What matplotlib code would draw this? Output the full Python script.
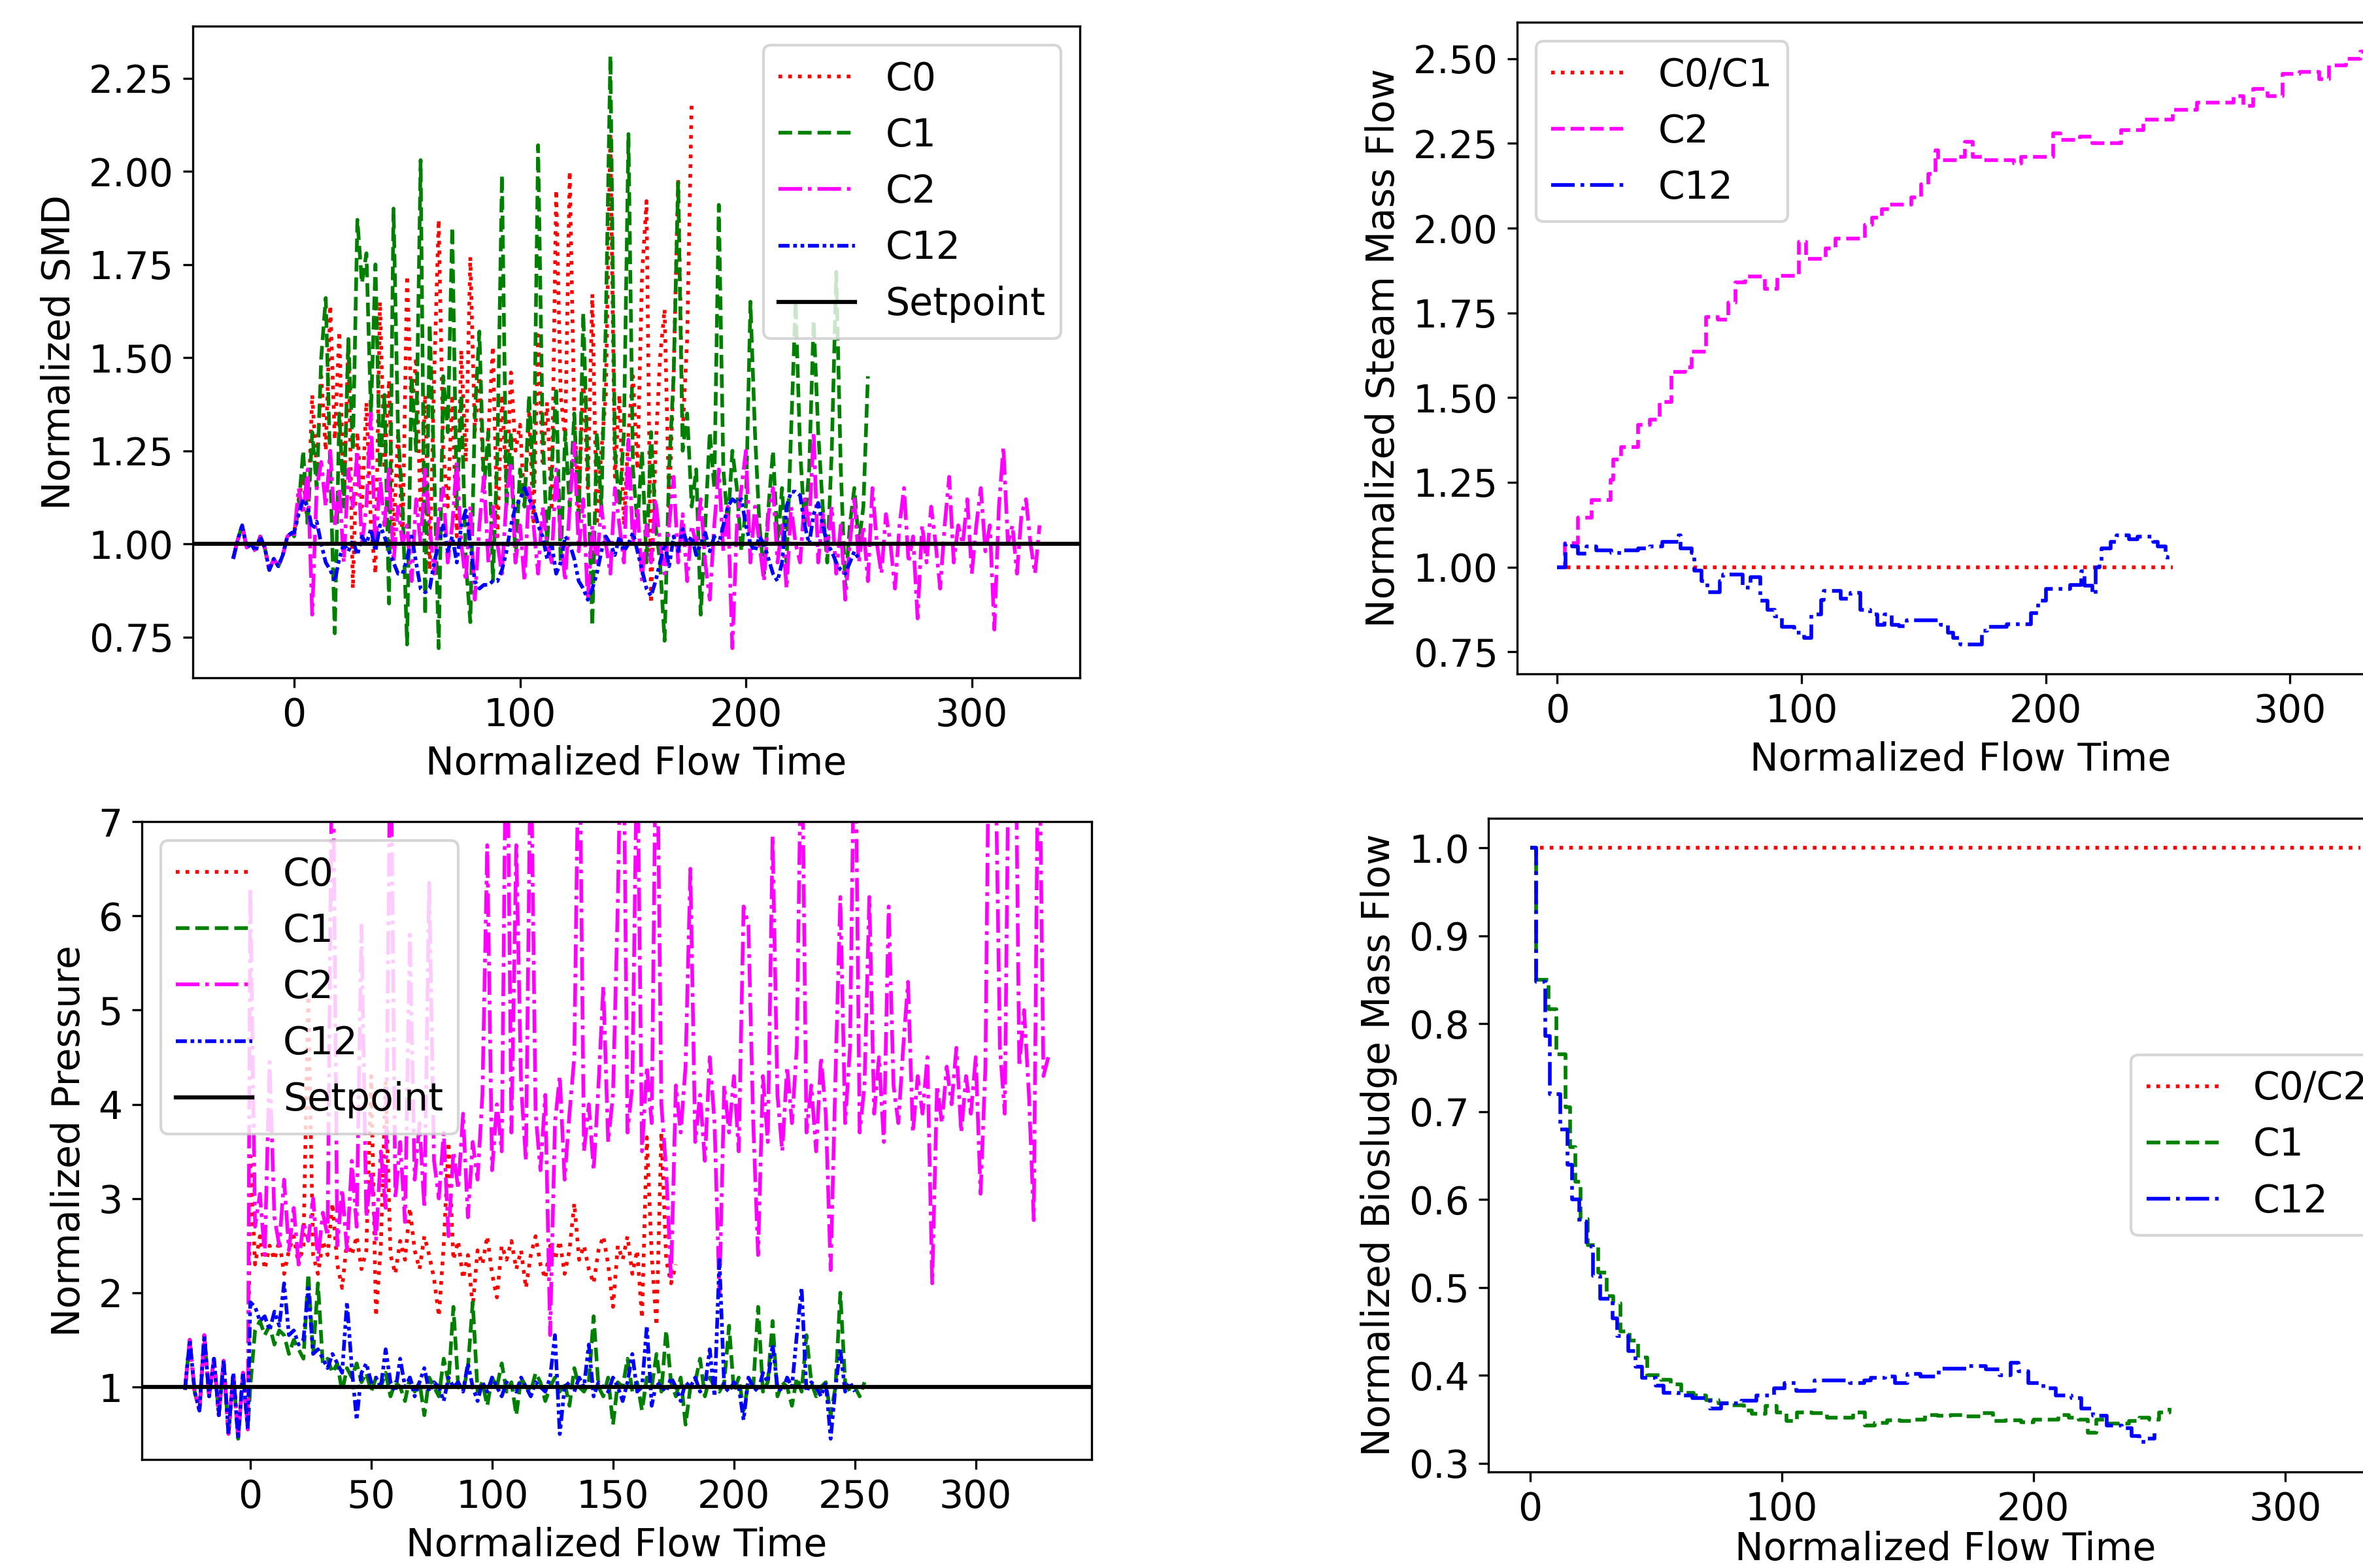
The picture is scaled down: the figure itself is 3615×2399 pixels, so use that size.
import numpy as np
import matplotlib
matplotlib.use('Agg')
import matplotlib.pyplot as plt

plt.rcParams['font.size'] = 14
plt.rcParams['lines.linewidth'] = 1.35

# ---- SMD (top left) ----
t_pre = np.arange(-27, 0, 2)
smd_pre = [0.96, 1.01, 1.05, 0.99, 1.00, 0.98, 1.02, 0.99, 0.93, 0.96, 0.94, 0.97, 1.02, 1.03]

smd_c0 = [1.03, 1.12, 1.18, 1.05, 1.40, 1.20, 1.45, 1.25, 1.64, 1.28,
          1.57, 1.10, 1.55, 0.88, 1.30, 1.10, 1.38, 1.05, 0.92, 1.65,
          1.20, 1.44, 1.02, 1.30, 1.00, 1.72, 1.35, 1.50, 1.08, 1.40,
          0.93, 1.45, 1.87, 1.25, 1.10, 1.40, 1.02, 1.52, 1.22, 1.77,
          1.30, 1.45, 1.15, 1.30, 1.53, 1.02, 1.40, 1.15, 1.46, 1.25,
          1.32, 1.10, 1.35, 1.06, 1.56, 1.22, 1.38, 1.10, 1.95, 1.40,
          1.28, 2.00, 1.35, 1.10, 1.45, 1.15, 1.67, 1.05, 1.25, 1.40,
          2.10, 1.18, 1.40, 1.05, 1.30, 1.45, 1.20, 1.72, 1.92, 0.84,
          1.25, 1.50, 1.63, 1.10, 1.45, 1.98, 1.30, 1.55, 2.19]
smd_c1 = [1.02, 1.10, 1.25, 1.05, 1.30, 1.15, 1.50, 1.66, 1.20, 0.76,
          1.35, 1.10, 1.55, 1.25, 1.87, 1.70, 1.78, 1.35, 1.75, 1.20,
          1.40, 0.84, 1.90, 1.30, 1.10, 0.73, 1.45, 1.25, 2.03, 0.81,
          1.59, 1.20, 0.72, 1.45, 1.30, 1.85, 1.10, 1.40, 0.95, 0.79,
          1.35, 1.57, 1.15, 1.30, 0.90, 1.25, 1.99, 1.10, 1.30, 0.95,
          1.20, 1.10, 1.40, 1.15, 2.07, 1.30, 1.00, 1.20, 1.42, 0.95,
          1.30, 1.10, 1.35, 1.05, 1.62, 1.20, 0.78, 1.30, 1.10, 1.60,
          2.31, 1.25, 1.10, 1.30, 2.10, 1.20, 1.05, 1.25, 0.95, 1.30,
          1.05, 0.95, 0.74, 1.20, 1.45, 1.97, 1.25, 1.35, 1.10, 1.20,
          0.81, 1.05, 1.30, 1.15, 1.91, 1.20, 1.05, 1.25, 1.15, 0.98,
          1.10, 1.65, 1.30, 1.05, 0.92, 1.10, 1.25, 1.00, 1.15, 0.95,
          1.30, 1.65, 1.25, 1.05, 1.20, 1.60, 1.30, 1.10, 0.95, 1.25,
          1.73, 1.20, 0.88, 1.05, 1.15, 1.00, 1.10, 1.45]
smd_c2 = [1.02, 1.15, 1.08, 1.20, 0.81, 1.15, 1.22, 1.10, 1.25, 1.05,
          1.15, 0.95, 1.20, 1.10, 1.25, 1.00, 1.10, 1.35, 0.98, 1.18,
          1.05, 1.20, 0.95, 1.10, 1.00, 1.05, 0.90, 1.12, 1.00, 1.20,
          1.05, 0.92, 1.08, 1.15, 0.95, 1.05, 1.22, 1.00, 0.90, 1.10,
          0.85, 1.05, 1.18, 0.95, 1.10, 1.00, 0.92, 1.12, 1.22, 0.95,
          1.05, 0.90, 1.15, 1.05, 0.92, 1.10, 1.00, 0.95, 1.20, 1.02,
          0.90, 1.10, 1.27, 0.98, 1.12, 0.85, 1.05, 0.95, 1.10, 1.00,
          0.92, 1.15, 1.05, 0.95, 1.28, 1.00, 1.10, 0.90, 1.05, 0.95,
          1.12, 1.00, 0.92, 1.05, 1.18, 0.95, 1.08, 0.90, 1.05, 1.00,
          1.12, 0.95, 0.85, 1.05, 1.20, 0.98, 1.10, 0.72, 1.05, 1.15,
          1.25, 0.95, 1.10, 1.00, 0.90, 1.08, 1.15, 0.95, 1.05, 0.88,
          1.10, 1.00, 0.95, 1.12, 1.05, 1.30, 0.95, 1.08, 0.98, 1.10,
          0.92, 1.05, 0.85, 1.00, 1.12, 0.95, 1.05, 0.90, 1.15, 1.00,
          0.92, 1.08, 1.00, 0.88, 1.05, 1.15, 0.95, 1.02, 0.80, 1.05,
          0.95, 1.10, 1.00, 0.88, 1.05, 1.18, 0.95, 1.05, 1.00, 1.12,
          0.92, 1.05, 1.15, 0.98, 1.05, 0.77, 1.10, 1.26, 1.00, 1.05,
          0.92, 1.08, 1.12, 1.00, 0.92, 1.05]
smd_c12 = [1.03, 1.08, 1.12, 1.10, 1.04, 1.06, 1.00, 0.95, 0.93, 0.90,
           0.96, 1.00, 0.98, 1.01, 0.97, 1.02, 1.00, 1.04, 0.98, 1.05,
           1.02, 0.98, 0.95, 0.92, 0.92, 0.96, 1.02, 0.95, 0.88, 0.87,
           0.88, 0.95, 1.00, 1.05, 0.98, 1.02, 0.95, 1.05, 1.09, 1.00,
           0.90, 0.88, 0.89, 0.89, 0.90, 0.90, 0.93, 0.98, 1.05, 1.10,
           1.12, 1.15, 1.12, 1.10, 1.05, 1.02, 0.96, 1.00, 0.92, 0.95,
           1.02, 1.00, 0.96, 0.90, 0.88, 0.85, 0.88, 0.92, 0.98, 1.02,
           1.00, 0.97, 1.02, 0.98, 1.00, 1.03, 0.98, 0.93, 0.88, 0.86,
           0.90, 0.95, 1.00, 0.94, 1.02, 0.98, 1.04, 1.00, 1.02, 0.97,
           1.00, 1.03, 0.98, 1.02, 1.00, 1.05, 1.10, 1.12, 1.11, 1.12,
           1.05, 1.00, 0.98, 1.02, 1.00, 0.96, 0.92, 0.90, 0.95, 1.10,
           1.14, 1.14, 1.13, 1.05, 1.00, 1.08, 1.11, 1.05, 1.00, 0.98,
           0.95, 0.93, 0.92, 0.95, 0.98, 0.96]

# ---- pressure (bottom left) ----
p_pre = [0.97, 1.50, 0.95, 0.75, 1.55, 0.90, 1.30, 0.70, 1.28, 0.50, 1.15, 0.45, 1.15, 0.55]

p_c0 = [3.45, 2.30, 2.60, 2.25, 2.50, 2.35, 2.55, 2.20, 2.45, 2.60,
        2.30, 2.50, 5.15, 2.40, 2.20, 2.55, 2.40, 2.95, 2.30, 2.05,
        2.55, 2.40, 2.60, 2.25, 2.45, 4.30, 1.75, 2.50, 4.25, 2.40,
        2.20, 2.55, 2.35, 2.90, 2.45, 2.25, 2.60, 2.40, 2.15, 1.75,
        2.50, 3.60, 2.35, 2.55, 2.15, 2.40, 1.85, 2.45, 2.30, 2.60,
        2.20, 1.95, 2.50, 2.35, 2.55, 2.25, 2.45, 2.05, 2.40, 2.60,
        2.30, 2.15, 2.50, 2.35, 2.55, 2.20, 2.45, 2.95, 2.35, 2.50,
        2.25, 2.10, 2.45, 2.60, 2.30, 1.85, 2.50, 2.35, 2.60, 2.20,
        2.45, 1.73, 3.65, 2.40, 1.65, 3.70, 2.35, 2.10, 2.30]
p_c1 = [1.00, 1.60, 1.70, 1.55, 1.65, 1.45, 1.60, 1.55, 1.35, 1.50,
        1.40, 1.30, 2.20, 1.35, 2.10, 1.25, 1.30, 1.15, 1.25, 0.95,
        1.20, 1.10, 1.25, 1.05, 1.15, 0.95, 1.10, 1.00, 1.15, 0.90,
        1.05, 1.00, 0.85, 1.10, 0.95, 1.05, 0.70, 1.10, 1.00, 0.90,
        1.30, 1.05, 1.85, 1.00, 0.95, 1.20, 1.90, 0.95, 1.05, 0.80,
        1.10, 1.00, 1.25, 0.95, 1.05, 0.70, 1.10, 1.00, 0.95, 1.15,
        1.05, 0.85, 1.00, 1.10, 0.95, 1.05, 0.80, 1.20, 1.00, 0.95,
        1.05, 1.75, 1.00, 0.90, 1.10, 0.60, 1.05, 1.00, 1.30, 0.95,
        1.05, 0.75, 1.10, 1.00, 1.35, 0.95, 1.60, 1.05, 0.90, 1.10,
        0.60, 1.00, 1.05, 1.30, 0.90, 1.10, 1.00, 0.95, 1.05, 1.65,
        0.95, 1.10, 0.75, 1.05, 1.00, 1.85, 0.95, 1.05, 1.70, 0.90,
        1.05, 1.00, 0.80, 1.10, 0.95, 1.55, 1.05, 0.90, 1.00, 1.05,
        0.70, 1.00, 2.00, 1.05, 0.95, 1.00, 0.90, 1.05]
p_c2 = [6.30, 2.70, 3.05, 2.40, 4.45, 2.80, 2.50, 3.20, 2.45, 2.90,
        2.30, 2.75, 2.55, 3.00, 2.35, 2.85, 2.60, 8.50, 2.50, 3.10,
        2.45, 3.40, 2.70, 5.90, 2.80, 3.30, 2.55, 3.50, 2.90, 8.20,
        3.00, 3.60, 2.75, 5.80, 3.20, 3.80, 2.90, 6.35, 3.40, 3.00,
        3.70, 2.60, 3.50, 3.10, 3.90, 2.80, 3.60, 3.20, 4.10, 6.75,
        3.30, 4.00, 3.50, 8.80, 3.70, 6.75, 4.20, 3.40, 8.00, 3.90,
        3.30, 4.10, 1.55, 3.80, 4.30, 3.20, 3.90, 4.50, 8.40, 3.50,
        4.00, 3.30, 4.20, 5.25, 3.60, 4.10, 6.15, 9.00, 3.70, 4.20,
        8.00, 3.50, 4.40, 3.80, 8.60, 4.00, 3.30, 2.15, 4.20, 3.70,
        4.40, 6.50, 3.60, 4.10, 3.40, 4.50, 3.80, 1.98, 4.20, 3.70,
        4.30, 3.50, 6.10, 5.90, 3.80, 2.40, 4.30, 3.60, 6.85, 4.10,
        3.50, 4.40, 3.80, 4.60, 8.30, 3.70, 4.20, 3.50, 4.50, 3.90,
        2.24, 4.30, 6.20, 3.80, 4.60, 8.50, 3.70, 4.20, 6.20, 3.90,
        4.50, 3.60, 6.10, 4.20, 3.80, 4.60, 5.30, 3.70, 4.30, 3.90,
        4.50, 2.10, 4.20, 3.80, 4.40, 4.00, 4.60, 3.70, 4.30, 3.90,
        4.50, 3.05, 4.40, 9.50, 8.00, 4.60, 3.90, 8.80, 9.20, 4.40,
        5.00, 4.10, 2.77, 8.60, 4.30, 4.50]
p_c12 = [1.90, 1.85, 1.70, 1.75, 1.60, 1.80, 1.65, 2.10, 1.55, 1.60,
         1.45, 1.50, 2.05, 1.35, 1.40, 1.30, 1.20, 1.35, 1.25, 1.15,
         1.90, 1.20, 0.65, 1.15, 1.25, 1.05, 1.10, 1.00, 1.40, 1.05,
         0.95, 1.30, 1.00, 1.10, 0.90, 1.05, 1.20, 0.95, 1.05, 1.00,
         0.85, 1.10, 1.00, 1.05, 0.95, 1.25, 1.00, 0.85, 1.05, 0.95,
         1.10, 1.00, 0.90, 1.05, 1.00, 0.95, 1.10, 1.00, 0.90, 1.05,
         1.00, 0.95, 1.10, 1.55, 0.50, 1.00, 1.05, 0.95, 1.10, 1.00,
         1.45, 0.90, 1.05, 1.00, 0.95, 1.10, 1.00, 0.85, 1.05, 1.35,
         0.95, 1.00, 1.65, 0.80, 1.05, 1.00, 0.95, 1.10, 1.00, 0.85,
         1.05, 1.00, 1.10, 0.95, 1.00, 1.40, 0.90, 2.35, 1.00, 0.95,
         1.05, 1.00, 0.65, 1.10, 1.00, 0.95, 1.15, 1.05, 1.45, 1.00,
         0.95, 1.10, 1.00, 1.55, 2.05, 0.95, 1.05, 1.00, 0.90, 1.05,
         0.45, 1.00, 1.40, 0.95, 1.05, 0.95]

# ---- steam mass flow (top right), step changes ----
steam_c01_t = [0, 252]
steam_c01 = [1.0, 1.0]
steam_c2_t = [0, 3, 8.5, 14, 21.7, 23, 26, 33, 38, 42, 46.6, 52.4, 55, 61, 65.6,
              70, 73, 77, 85, 90, 99, 102, 110, 114, 126, 129, 133, 136, 145, 149,
              152, 155, 156, 164, 167, 170, 174, 187, 190, 203, 206, 214, 219, 231,
              240, 252, 262, 277, 281, 285, 291, 297, 304, 312, 316, 323, 329, 330]
steam_c2 = [1.0, 1.07, 1.146, 1.198, 1.257, 1.317, 1.354, 1.42, 1.435, 1.487, 1.575,
            1.59, 1.635, 1.738, 1.73, 1.78, 1.84, 1.857, 1.82, 1.86, 1.96, 1.91,
            1.94, 1.97, 2.01, 2.03, 2.056, 2.07, 2.09, 2.13, 2.16, 2.23, 2.2, 2.21,
            2.255, 2.21, 2.2, 2.19, 2.21, 2.28, 2.26, 2.27, 2.25, 2.29, 2.32, 2.35,
            2.37, 2.39, 2.36, 2.41, 2.39, 2.455, 2.46, 2.44, 2.48, 2.50, 2.52, 2.52]
steam_c12_t = [0, 3.4, 6, 8.5, 12, 16, 22, 27, 33, 38, 43, 49.6, 50.5, 55, 56, 59,
               61.5, 66.5, 68, 76, 79, 83, 86, 89, 92, 97, 101, 104, 108, 109, 116,
               120, 124, 128, 131, 134, 137, 140, 143, 157, 160, 162, 165, 174, 176,
               184, 194, 197, 200, 210, 214.5, 216, 219, 220.5, 222, 223, 226.5, 229,
               234, 237.6, 244, 246, 249, 250]
steam_c12 = [1.0, 1.068, 1.06, 1.04, 1.06, 1.05, 1.042, 1.05, 1.055, 1.06, 1.074,
             1.093, 1.055, 1.042, 0.99, 0.958, 0.926, 0.958, 0.977, 0.94, 0.97, 0.9,
             0.874, 0.855, 0.823, 0.807, 0.79, 0.86, 0.903, 0.93, 0.907, 0.923,
             0.874, 0.86, 0.83, 0.86, 0.83, 0.826, 0.842, 0.83, 0.807, 0.79, 0.772,
             0.813, 0.823, 0.832, 0.865, 0.9, 0.936, 0.948, 0.987, 0.945, 0.92, 1.0,
             1.016, 1.055, 1.074, 1.093, 1.083, 1.09, 1.075, 1.06, 1.03, 1.01]

# ---- biosludge mass flow (bottom right), step changes ----
bio_c02_t = [0, 330]
bio_c02 = [1.0, 1.0]
bio_c1_t = [0, 2.5, 7.4, 10.5, 14, 16, 18, 20, 23, 27, 30.4, 33, 36, 39.5, 43, 46.6,
            52, 56, 60, 65, 70, 75, 80, 85, 88, 93.5, 98, 102, 106, 112, 118, 125,
            128.5, 133, 137, 142, 147, 152, 157, 162, 167, 173, 179, 184, 189, 195,
            200, 205, 210, 214, 218, 221.6, 225, 229, 233.5, 238, 242, 246, 250, 254]
bio_c1 = [1.0, 0.85, 0.817, 0.765, 0.705, 0.66, 0.62, 0.578, 0.548, 0.517, 0.49,
          0.482, 0.45, 0.44, 0.42, 0.4, 0.395, 0.39, 0.38, 0.377, 0.372, 0.368,
          0.366, 0.36, 0.356, 0.365, 0.358, 0.348, 0.358, 0.357, 0.352, 0.352,
          0.358, 0.343, 0.346, 0.349, 0.348, 0.35, 0.355, 0.354, 0.355, 0.353,
          0.357, 0.348, 0.349, 0.347, 0.35, 0.35, 0.355, 0.352, 0.35, 0.335, 0.35,
          0.345, 0.345, 0.348, 0.352, 0.35, 0.358, 0.363]
bio_c12_t = [0, 2.5, 6, 8, 12, 15, 16.7, 19.6, 22.4, 25, 28, 32.7, 34.6, 39, 42, 44.6,
             50, 53, 59, 64.5, 71.6, 75.9, 84, 90, 97, 101, 105.7, 113, 127, 132.7,
             135.5, 141, 145, 150, 155, 162.5, 174, 181, 186.6, 191, 194, 198, 204,
             209, 215, 219, 223.6, 229, 235, 239, 242, 245, 248]
bio_c12 = [1.0, 0.848, 0.786, 0.72, 0.68, 0.64, 0.6, 0.575, 0.547, 0.513, 0.487,
           0.465, 0.445, 0.428, 0.41, 0.397, 0.388, 0.38, 0.377, 0.374, 0.362,
           0.368, 0.371, 0.377, 0.385, 0.391, 0.382, 0.394, 0.391, 0.394, 0.397,
           0.399, 0.391, 0.402, 0.399, 0.408, 0.411, 0.407, 0.4, 0.414, 0.405,
           0.391, 0.385, 0.377, 0.374, 0.362, 0.354, 0.343, 0.34, 0.331, 0.324,
           0.328, 0.334]

dashdotdot = (0, (3, 1, 1, 1, 1, 1))

fig = plt.figure(figsize=(12.05, 7.9967), dpi=300)

# top left
ax1 = fig.add_axes([0.0816, 0.5677, 0.3754, 0.4156])
ax1.plot(np.concatenate([t_pre, np.arange(0, 2 * len(smd_c0), 2)]), smd_pre + smd_c0,
         color='red', linestyle=':', label='C0')
ax1.plot(np.concatenate([t_pre, np.arange(0, 2 * len(smd_c1), 2)]), smd_pre + smd_c1,
         color='green', linestyle='--', label='C1')
ax1.plot(np.concatenate([t_pre, np.arange(0, 2 * len(smd_c2), 2)]), smd_pre + smd_c2,
         color='magenta', linestyle='-.', label='C2')
ax1.plot(np.concatenate([t_pre, np.arange(0, 2 * len(smd_c12), 2)]), smd_pre + smd_c12,
         color='blue', linestyle=dashdotdot, label='C12')
ax1.axhline(1.0, color='black', linewidth=1.5, label='Setpoint')
ax1.set_xticks([0, 100, 200, 300])
ax1.set_xlabel('Normalized Flow Time')
ax1.set_ylabel('Normalized SMD')
ax1.legend(loc='upper right')

# top right
ax2 = fig.add_axes([0.6420, 0.5702, 0.3751, 0.4156])
ax2.step(steam_c01_t, steam_c01, where='post', color='red', linestyle=':', label='C0/C1')
ax2.step(steam_c2_t, steam_c2, where='post', color='magenta', linestyle='--', label='C2')
ax2.step(steam_c12_t, steam_c12, where='post', color='blue', linestyle='-.', label='C12')
ax2.set_xlim(-16.5, 346.5)
ax2.set_xticks([0, 100, 200, 300])
ax2.set_xlabel('Normalized Flow Time')
ax2.set_ylabel('Normalized Steam Mass Flow')
ax2.legend(loc='upper left')

# bottom left
ax3 = fig.add_axes([0.0600, 0.0692, 0.4019, 0.4068])
ax3.plot(np.concatenate([t_pre, np.arange(0, 2 * len(p_c0), 2)]), p_pre + p_c0,
         color='red', linestyle=':', label='C0')
ax3.plot(np.concatenate([t_pre, np.arange(0, 2 * len(p_c1), 2)]), p_pre + p_c1,
         color='green', linestyle='--', label='C1')
ax3.plot(np.concatenate([t_pre, np.arange(0, 2 * len(p_c2), 2)]), p_pre + p_c2,
         color='magenta', linestyle='-.', label='C2')
ax3.plot(np.concatenate([t_pre, np.arange(0, 2 * len(p_c12), 2)]), p_pre + p_c12,
         color='blue', linestyle=dashdotdot, label='C12')
ax3.axhline(1.0, color='black', linewidth=1.5, label='Setpoint')
ax3.set_ylim(0.23, 7)
ax3.set_xticks([0, 50, 100, 150, 200, 250, 300])
ax3.set_xlabel('Normalized Flow Time')
ax3.set_ylabel('Normalized Pressure')
ax3.legend(loc='upper left')

# bottom right
ax4 = fig.add_axes([0.6299, 0.0613, 0.3867, 0.4168])
ax4.step(bio_c02_t, bio_c02, where='post', color='red', linestyle=':', label='C0/C2')
ax4.step(bio_c1_t, bio_c1, where='post', color='green', linestyle='--', label='C1')
ax4.step(bio_c12_t, bio_c12, where='post', color='blue', linestyle='-.', label='C12')
ax4.set_xlim(-16.5, 346.5)
ax4.set_xticks([0, 100, 200, 300])
ax4.set_xlabel('Normalized Flow Time', labelpad=1)
ax4.set_ylabel('Normalized Biosludge Mass Flow')
ax4.legend(loc='center right')

fig.savefig('out.png', dpi=300)
